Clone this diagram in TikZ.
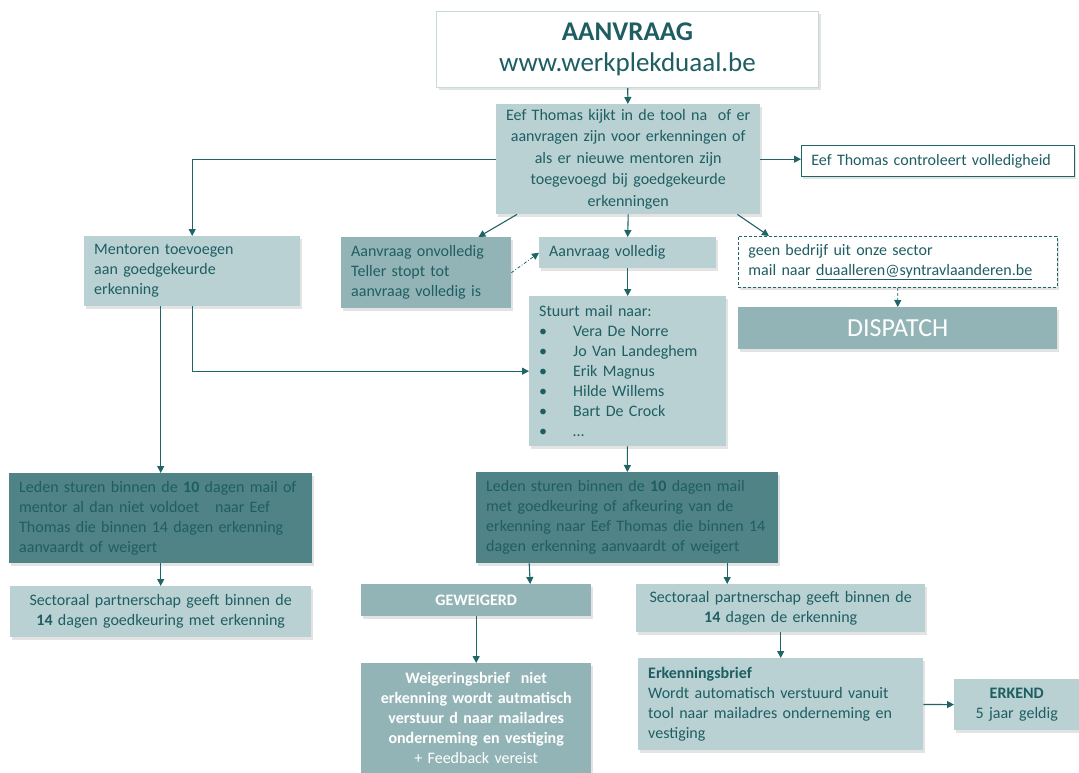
\documentclass[tikz,border=0pt]{standalone}
\usepackage{fontspec}
\setmainfont{Carlito}
\usetikzlibrary{arrows.meta,shadows}

\definecolor{tealtext}{HTML}{1E5E62}
\definecolor{tealline}{HTML}{1F6467}
\definecolor{lightfill}{HTML}{B9D1D2}
\definecolor{midfill}{HTML}{93B4B6}
\definecolor{darkfill}{HTML}{508385}
\definecolor{paleline}{HTML}{C6DADB}

\begin{document}
\begin{tikzpicture}[
    x=1pt, y=-1pt,
    font=\fontsize{16}{20}\selectfont,
    text=tealtext,
    box/.style={rectangle, anchor=north west, inner xsep=10pt, inner ysep=2pt,
        drop shadow={shadow xshift=2pt, shadow yshift=-2.5pt, opacity=0.22}},
    light/.style={box, fill=lightfill},
    mid/.style={box, fill=midfill},
    dark/.style={box, fill=darkfill},
    framed/.style={box, fill=white, draw=tealline, line width=0.9pt},
    link/.style={-{Triangle[length=7pt,width=7pt]}, draw=tealline, line width=1.1pt},
]
\path[fill=white, use as bounding box] (0,0) rectangle (1079,773);

% top
\node[box, fill=white, draw=paleline, line width=1pt, drop shadow={opacity=0}, text width=362pt, minimum height=76pt, align=center, font=\fontsize{27}{31}\selectfont] (aanv) at (436,11)
    {\textbf{AANVRAAG}\\www.werkplekduaal.be};
\node[light, inner xsep=2pt, text width=260pt, minimum height=110pt, align=center, font=\fontsize{16}{21.5}\selectfont] (kijkt) at (496,104)
    {Eef Thomas kijkt in de tool na\ \ of er\\aanvragen zijn voor erkenningen of\\als er nieuwe mentoren zijn\\toegevoegd bij goedgekeurde\\erkenningen};
\node[framed, text width=253pt, minimum height=31pt, align=left] (contr) at (801,145)
    {Eef Thomas controleert volledigheid};

% second row
\node[light, text width=196pt, minimum height=70pt, align=left] (ment) at (84,236)
    {Mentoren toevoegen\\aan goedgekeurde\\erkenning};
\node[mid, text width=150pt, minimum height=71pt, align=left] (onvol) at (341,237)
    {Aanvraag onvolledig\\Teller stopt tot\\aanvraag volledig is};
\node[light, text width=157pt, minimum height=31pt, align=left] (vol) at (539,237)
    {Aanvraag volledig};
\node[framed, draw=tealline, densely dashed, line width=0.8pt, text width=299pt, minimum height=51pt, align=left] (geen) at (738,236)
    {geen bedrijf uit onze sector\\mail naar \underline{duaalleren@syntravlaanderen.be}};
\node[mid, text width=299pt, minimum height=42pt, align=center, text=white, font=\fontsize{26}{30}\selectfont] (disp) at (738,307)
    {DISPATCH};
\node[light, text width=177pt, minimum height=150pt, align=left] (stuurt) at (529,296)
    {Stuurt mail naar:\\
     \makebox[34pt][l]{\textbullet}Vera De Norre\\
     \makebox[34pt][l]{\textbullet}Jo Van Landeghem\\
     \makebox[34pt][l]{\textbullet}Erik Magnus\\
     \makebox[34pt][l]{\textbullet}Hilde Willems\\
     \makebox[34pt][l]{\textbullet}Bart De Crock\\
     \makebox[34pt][l]{\textbullet}\ldots};

% members
\node[dark, text width=283pt, minimum height=90pt, align=left] (ledenL) at (9,473)
    {Leden sturen binnen de \textbf{10} dagen mail of\\mentor al dan niet voldoet\ \ \ naar Eef\\Thomas die binnen 14 dagen erkenning\\aanvaardt of weigert};
\node[dark, text width=282pt, minimum height=91pt, align=left] (ledenM) at (476,472)
    {Leden sturen binnen de \textbf{10} dagen mail\\met goedkeuring of afkeuring van de\\erkenning naar Eef Thomas die binnen 14\\dagen erkenning aanvaardt of weigert};

% outcomes
\node[light, text width=281pt, minimum height=51pt, align=center] (sectL) at (10,586)
    {Sectoraal partnerschap geeft binnen de\\\textbf{14} dagen goedkeuring met erkenning};
\node[mid, text width=210pt, minimum height=32pt, align=center, text=white] (gew) at (361,584)
    {\textbf{GEWEIGERD}};
\node[light, text width=269pt, minimum height=48pt, align=center] (sectR) at (636,584)
    {Sectoraal partnerschap geeft binnen de\\\textbf{14} dagen de erkenning};
\node[mid, text width=210pt, minimum height=110pt, align=center, text=white] (weig) at (361,663)
    {\textbf{Weigeringsbrief\ \ niet}\\\textbf{erkenning wordt autmatisch}\\\textbf{verstuur d naar mailadres}\\\textbf{onderneming en vestiging}\\+ Feedback vereist};
\node[light, text width=265pt, minimum height=92pt, align=left] (erkb) at (638,658)
    {\textbf{Erkenningsbrief}\\Wordt automatisch verstuurd vanuit\\tool naar mailadres onderneming en\\vestiging};
\node[light, text width=105pt, minimum height=51pt, align=center] (erkend) at (954,679)
    {\textbf{ERKEND}\\5 jaar geldig};

% connectors
\draw[link] (aanv) -- (kijkt);
\draw[link] (kijkt.west) -| (ment.north);
\draw[link] (kijkt.east) -- (kijkt.east -| contr.west);
\draw[link] ([xshift=21pt]kijkt.south west) -- ([xshift=-33pt]onvol.north east);
\draw[link] (kijkt.south) -- (vol.north);
\draw[link] ([xshift=-23pt]kijkt.south east) -- ([xshift=31pt]geen.north west);
\draw[link, line width=0.8pt, dash dot] (onvol.east) -- (vol.west);
\draw[link] (vol) -- (stuurt);
\draw[link, line width=0.8pt, densely dashed] (geen) -- (disp);
\draw[link] (ment.south) |- (stuurt.west);
\draw[link] ([xshift=-31.5pt]ment.south) -- (ledenL.north);
\draw[link] (stuurt) -- (ledenM);
\draw[link] (ledenL) -- (sectL);
\draw[link] ([xshift=-98pt]ledenM.south) -- ([xshift=54pt]gew.north);
\draw[link] ([xshift=100pt]ledenM.south) -- ([xshift=-53.5pt]sectR.north);
\draw[link] (gew) -- (weig);
\draw[link] (sectR) -- (erkb);
\draw[link] (erkb) -- (erkend);
\end{tikzpicture}
\end{document}
